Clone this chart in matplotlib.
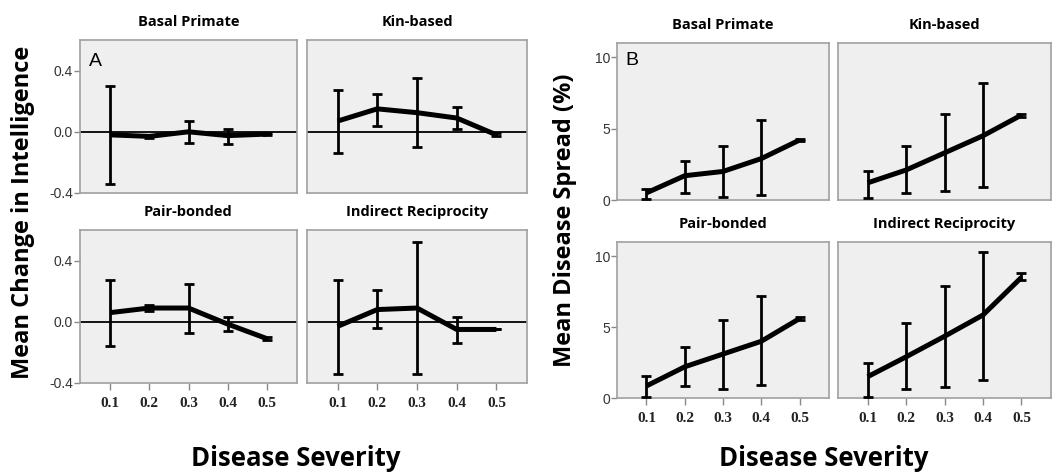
import numpy as np
import matplotlib
matplotlib.use('Agg')
import matplotlib.pyplot as plt

severity = [0.1, 0.2, 0.3, 0.4, 0.5]
societies = ['Basal Primate', 'Kin-based', 'Pair-bonded', 'Indirect Reciprocity']

# panel A: mean change in intelligence, with error bar ends
iq_mean = {
    'Basal Primate': [-0.02, -0.03, 0.0, -0.025, -0.015],
    'Kin-based': [0.07, 0.15, 0.125, 0.09, -0.02],
    'Pair-bonded': [0.06, 0.09, 0.09, -0.015, -0.11],
    'Indirect Reciprocity': [-0.03, 0.08, 0.09, -0.05, -0.05],
}
iq_low = {
    'Basal Primate': [-0.34, -0.04, -0.07, -0.08, -0.02],
    'Kin-based': [-0.14, 0.04, -0.10, 0.02, -0.03],
    'Pair-bonded': [-0.16, 0.07, -0.07, -0.06, -0.12],
    'Indirect Reciprocity': [-0.34, -0.04, -0.34, -0.14, -0.05],
}
iq_high = {
    'Basal Primate': [0.30, -0.02, 0.07, 0.02, -0.01],
    'Kin-based': [0.27, 0.25, 0.35, 0.16, -0.01],
    'Pair-bonded': [0.27, 0.11, 0.25, 0.03, -0.10],
    'Indirect Reciprocity': [0.27, 0.21, 0.52, 0.03, -0.05],
}

# panel B: mean disease spread (%)
sp_mean = {
    'Basal Primate': [0.5, 1.7, 2.0, 2.9, 4.2],
    'Kin-based': [1.2, 2.1, 3.3, 4.5, 5.95],
    'Pair-bonded': [0.85, 2.2, 3.1, 4.0, 5.6],
    'Indirect Reciprocity': [1.5, 2.9, 4.35, 5.85, 8.5],
}
sp_low = {
    'Basal Primate': [0.05, 0.5, 0.2, 0.35, 4.1],
    'Kin-based': [0.15, 0.5, 0.65, 0.9, 5.85],
    'Pair-bonded': [0.1, 0.85, 0.65, 0.95, 5.5],
    'Indirect Reciprocity': [0.1, 0.6, 0.8, 1.3, 8.3],
}
sp_high = {
    'Basal Primate': [0.8, 2.7, 3.8, 5.6, 4.3],
    'Kin-based': [2.0, 3.8, 6.0, 8.2, 6.05],
    'Pair-bonded': [1.55, 3.6, 5.5, 7.2, 5.7],
    'Indirect Reciprocity': [2.5, 5.3, 7.9, 10.3, 8.8],
}

W, H = 1054, 472
fig = plt.figure(figsize=(W / 100, H / 100), dpi=100)

fam = ['Open Sans', 'DejaVu Sans']
title_font = dict(family=fam, weight='bold', size=10.5)
ylabel_font = dict(family=fam, weight='bold', size=17)
xlabel_font = dict(family=fam, weight='bold', size=18.5)


def px_axes(l, r, t, b):
    return fig.add_axes([l / W, 1 - b / H, (r - l) / W, (b - t) / H])


def draw_panel(ax, mean, low, high, ylim, yticks, yticklabels, left, bottom, zero_line):
    ax.set_facecolor('#efefef')
    for s in ax.spines.values():
        s.set_color('#a0a0a0')
        s.set_linewidth(1.2)
    if zero_line:
        ax.axhline(0, color='black', lw=1.3, zorder=1)
    m = np.array(mean)
    yerr = [m - np.array(low), np.array(high) - m]
    ax.errorbar(severity, m, yerr=yerr, fmt='none', ecolor='black',
                elinewidth=2, capsize=3.5, capthick=2, zorder=3)
    ax.plot(severity, m, color='black', lw=3.6, solid_joinstyle='round',
            solid_capstyle='butt', zorder=4)
    ax.set_xlim(0.023, 0.577)
    ax.set_ylim(*ylim)
    ax.set_yticks(yticks)
    ax.set_xticks(severity)
    ax.tick_params(axis='y', length=4, width=1, color='#888888', pad=1,
                   labelsize=10, labelcolor='#333333', left=left, labelleft=left)
    ax.tick_params(axis='x', length=5, width=1, color='#888888', pad=5,
                   bottom=bottom, labelbottom=bottom)
    if left:
        ax.set_yticklabels(yticklabels, family='Liberation Sans')
    if bottom:
        ax.set_xticklabels(['0.1', '0.2', '0.3', '0.4', '0.5'],
                           family='Liberation Serif', weight='bold', size=11,
                           color='#222222')


# panel layouts in pixels: left, right, top, bottom
a_boxes = [(80, 297, 40, 193), (307, 527, 40, 193),
           (80, 297, 230, 383), (307, 527, 230, 383)]
b_boxes = [(617, 829, 43, 200), (838, 1051, 43, 200),
           (617, 829, 242, 398), (838, 1051, 242, 398)]

for i, soc in enumerate(societies):
    ax = px_axes(*a_boxes[i])
    draw_panel(ax, iq_mean[soc], iq_low[soc], iq_high[soc], (-0.4, 0.6),
               [-0.4, 0.0, 0.4], ['-0.4', '0.0', '0.4'],
               left=(i % 2 == 0), bottom=(i >= 2), zero_line=True)
    ax.set_title(soc, pad=10, **title_font)
    if i == 0:
        ax.text(0.04, 0.86, 'A', transform=ax.transAxes, size=14,
                family='Liberation Sans', va='center')

for i, soc in enumerate(societies):
    ax = px_axes(*b_boxes[i])
    draw_panel(ax, sp_mean[soc], sp_low[soc], sp_high[soc], (0, 11),
               [0, 5, 10], ['0', '5', '10'],
               left=(i % 2 == 0), bottom=(i >= 2), zero_line=False)
    ax.set_title(soc, pad=10, **title_font)
    if i == 0:
        ax.text(0.04, 0.89, 'B', transform=ax.transAxes, size=14,
                family='Liberation Sans', va='center')

fig.text(23 / W, 1 - 212 / H, 'Mean Change in Intelligence', rotation=90,
         ha='center', va='center', **ylabel_font)
fig.text(565 / W, 1 - 220 / H, 'Mean Disease Spread (%)', rotation=90,
         ha='center', va='center', **ylabel_font)
fig.text(296 / W, 1 - 458 / H, 'Disease Severity', ha='center', va='center', **xlabel_font)
fig.text(824 / W, 1 - 458 / H, 'Disease Severity', ha='center', va='center', **xlabel_font)

plt.savefig('out.png', dpi=100)
